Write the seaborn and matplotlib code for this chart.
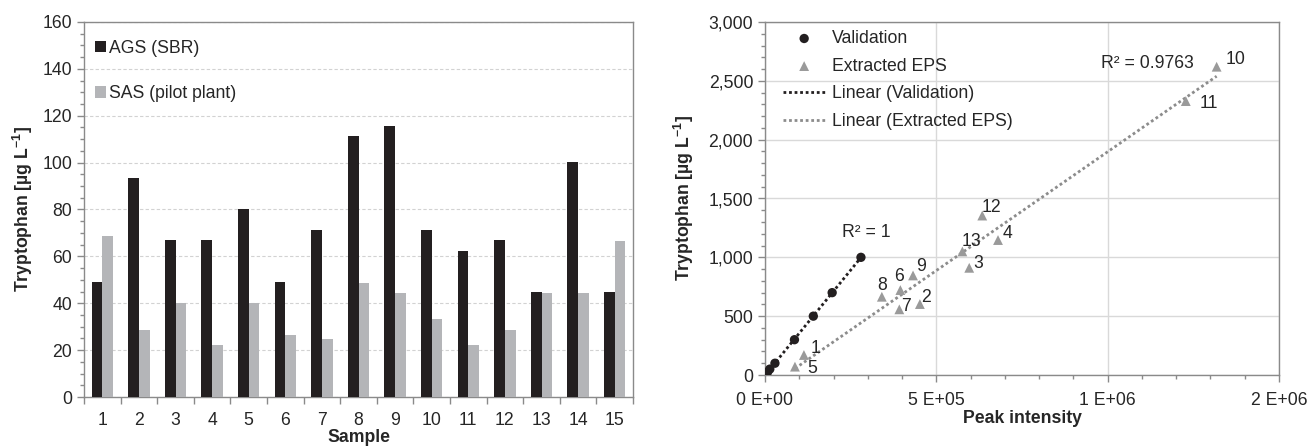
import numpy as np
import pandas as pd
import matplotlib
matplotlib.use("Agg")
import matplotlib.pyplot as plt
import seaborn as sns
from matplotlib.ticker import MultipleLocator, FixedLocator, FixedFormatter, StrMethodFormatter

# ---------------- data ----------------
samples = [str(i) for i in range(1, 16)]
ags_sbr = [49.0, 93.6, 66.9, 66.9, 80.4, 49.0, 71.4, 111.3, 115.7, 71.3, 62.5, 66.9, 44.6, 100.2, 44.6]
sas_pilot = [68.9, 28.7, 39.9, 22.1, 39.9, 26.5, 24.6, 48.8, 44.3, 33.2, 22.1, 28.7, 44.3, 44.3, 66.6]
bar_series = ["AGS (SBR)", "SAS (pilot plant)"]

val_x = [1500, 3500, 7500, 14000, 29000, 86000, 141000, 196000, 280000]
val_y = [5, 12, 25, 50, 100, 300, 500, 700, 1000]

eps_labels = ["1", "2", "3", "4", "5", "6", "7", "8", "9", "10", "11", "12", "13"]
eps_x = [113600, 452000, 596000, 680000, 87400, 395000, 392000, 341000, 432000, 1318000, 1228000, 634000, 576000]
eps_y = [170, 603, 911, 1147, 71, 722, 558, 665, 846, 2620, 2328, 1355, 1050]

r2_val_text = "R² = 1"
r2_eps_text = "R² = 0.9763"
x_tick_vals = [0, 500000, 1000000, 1500000]
x_tick_labels = ["0 E+00", "5 E+05", "1 E+06", "2 E+06"]

# ---------------- style ----------------
sns.set_theme(style="white")
plt.rcParams["font.family"] = ["Liberation Sans", "DejaVu Sans"]
plt.rcParams["mathtext.fontset"] = "custom"
plt.rcParams["mathtext.rm"] = "Liberation Sans"
plt.rcParams["mathtext.bf"] = "Liberation Sans:bold"

BLACK = "#231f20"
LGRAY = "#b4b5b8"
TRI = "#9a9a9a"
SPINE = "#8a8a8a"
TXT = "#262626"
FS = 12.7

fig = plt.figure(figsize=(13.09, 4.48), dpi=100)
ax1 = fig.add_axes([84 / 1309, 51 / 448, 549 / 1309, 375 / 448])
ax2 = fig.add_axes([765 / 1309, 73 / 448, 514 / 1309, 353 / 448])

# ---------------- left: bar chart ----------------
df = pd.DataFrame({
    "Sample": samples * 2,
    "Value": ags_sbr + sas_pilot,
    "Series": [bar_series[0]] * len(samples) + [bar_series[1]] * len(samples),
})
sns.barplot(data=df, x="Sample", y="Value", hue="Series", order=samples,
            hue_order=bar_series, palette=[BLACK, LGRAY], width=0.58, gap=0,
            linewidth=0, saturation=1, ax=ax1, zorder=3)
ax1.set_xlim(-0.5, len(samples) - 0.5)
ax1.set_ylim(0, 160)
ax1.yaxis.set_major_locator(MultipleLocator(20))
ax1.yaxis.set_minor_locator(MultipleLocator(5))
ax1.grid(axis="y", which="major", color="#d2d2d2", linestyle=(0, (3, 2)), linewidth=0.8, zorder=0)
ax1.set_axisbelow(True)
ax1.xaxis.set_minor_locator(FixedLocator(np.arange(-0.5, len(samples), 1.0)))
ax1.tick_params(axis="x", which="major", length=0, labelsize=FS, pad=11, colors=TXT)
ax1.tick_params(axis="x", which="minor", length=5, width=1, color=SPINE, direction="out", bottom=True)
ax1.tick_params(axis="y", which="major", length=5, width=1, color=SPINE, direction="out", left=True, labelsize=FS, labelcolor=TXT)
ax1.tick_params(axis="y", which="minor", length=3, width=1, color=SPINE, direction="out", left=True)
for s in ax1.spines.values():
    s.set_color(SPINE)
    s.set_linewidth(1)
ax1.set_xlabel("Sample", fontsize=FS, fontweight="bold", labelpad=0, color=TXT)
ax1.set_ylabel(r"Tryptophan [µg L$^{\mathbf{-1}}$]", fontsize=FS, fontweight="bold", labelpad=5, color=TXT)
leg1 = ax1.legend(loc="upper left", bbox_to_anchor=(0.02, 0.952), frameon=False, fontsize=FS,
                  handlelength=0.6, handleheight=0.6, handletextpad=0.2, labelspacing=1.6,
                  borderaxespad=0, borderpad=0, title=None)
for t in leg1.get_texts():
    t.set_color(TXT)

# ---------------- right: scatter + trendlines ----------------
sns.regplot(x=np.array(val_x), y=np.array(val_y), scatter=False, ci=None, ax=ax2,
            label="Linear (Validation)",
            line_kws=dict(color=BLACK, linestyle=(0, (1, 1)), linewidth=2))
sns.regplot(x=np.array(eps_x), y=np.array(eps_y), scatter=False, ci=None, ax=ax2,
            label="Linear (Extracted EPS)",
            line_kws=dict(color="#8c8c8c", linestyle=(0, (1, 1)), linewidth=2))
sns.scatterplot(x=val_x, y=val_y, ax=ax2, color=BLACK, marker="o", s=45, edgecolor="none",
                label="Validation", zorder=4)
sns.scatterplot(x=eps_x, y=eps_y, ax=ax2, color=TRI, marker="^", s=50, edgecolor="none",
                label="Extracted EPS", zorder=4)

label_offsets = {"1": (12, 6), "2": (6, 7), "3": (9, 4), "4": (9, 7), "5": (17, -2),
                 "6": (-1, 14), "7": (7, 3), "8": (0, 11), "9": (8, 9), "10": (19, 7),
                 "11": (23, -2), "12": (9, 8), "13": (9, 10)}
for lab, xv, yv in zip(eps_labels, eps_x, eps_y):
    dx, dy = label_offsets[lab]
    ax2.annotate(lab, (xv, yv), xytext=(dx, dy), textcoords="offset pixels",
                 fontsize=FS, color=TXT, ha="center", va="center")

ax2.annotate(r2_val_text, (val_x[-1], val_y[-1]), xytext=(5, 25), textcoords="offset pixels",
             fontsize=FS, color=TXT, ha="center", va="center")
ax2.annotate(r2_eps_text, (eps_x[9], eps_y[9]), xytext=(-69, 3), textcoords="offset pixels",
             fontsize=FS, color=TXT, ha="center", va="center")

ax2.set_xlim(0, 1500000)
ax2.set_ylim(0, 3000)
ax2.xaxis.set_major_locator(FixedLocator(x_tick_vals))
ax2.xaxis.set_major_formatter(FixedFormatter(x_tick_labels))
ax2.xaxis.set_minor_locator(MultipleLocator(100000))
ax2.yaxis.set_major_locator(MultipleLocator(500))
ax2.yaxis.set_minor_locator(MultipleLocator(100))
ax2.yaxis.set_major_formatter(StrMethodFormatter("{x:,.0f}"))
ax2.grid(which="major", color="#d9d9d9", linewidth=1, zorder=0)
ax2.set_axisbelow(True)
ax2.tick_params(axis="both", which="major", length=5, width=1, color=SPINE, direction="out",
                bottom=True, left=True, labelsize=FS, labelcolor=TXT)
ax2.tick_params(axis="both", which="minor", length=3, width=1, color=SPINE, direction="out",
                bottom=True, left=True)
ax2.tick_params(axis="x", which="major", pad=7)
for s in ax2.spines.values():
    s.set_color(SPINE)
    s.set_linewidth(1)
ax2.set_xlabel("Peak intensity", fontsize=FS, fontweight="bold", labelpad=1, color=TXT)
ax2.set_ylabel(r"Tryptophan [µg L$^{\mathbf{-1}}$]", fontsize=FS, fontweight="bold", labelpad=9, color=TXT)

handles, labels = ax2.get_legend_handles_labels()
order = ["Validation", "Extracted EPS", "Linear (Validation)", "Linear (Extracted EPS)"]
hd = dict(zip(labels, handles))
leg2 = ax2.legend([hd[k] for k in order], order, loc="upper left", bbox_to_anchor=(0.035, 0.977),
                  frameon=False, fontsize=FS, handlelength=2.4, handletextpad=0.4, labelspacing=0.6,
                  borderaxespad=0, borderpad=0)
for t in leg2.get_texts():
    t.set_color(TXT)

fig.savefig("out.png", dpi=100)
